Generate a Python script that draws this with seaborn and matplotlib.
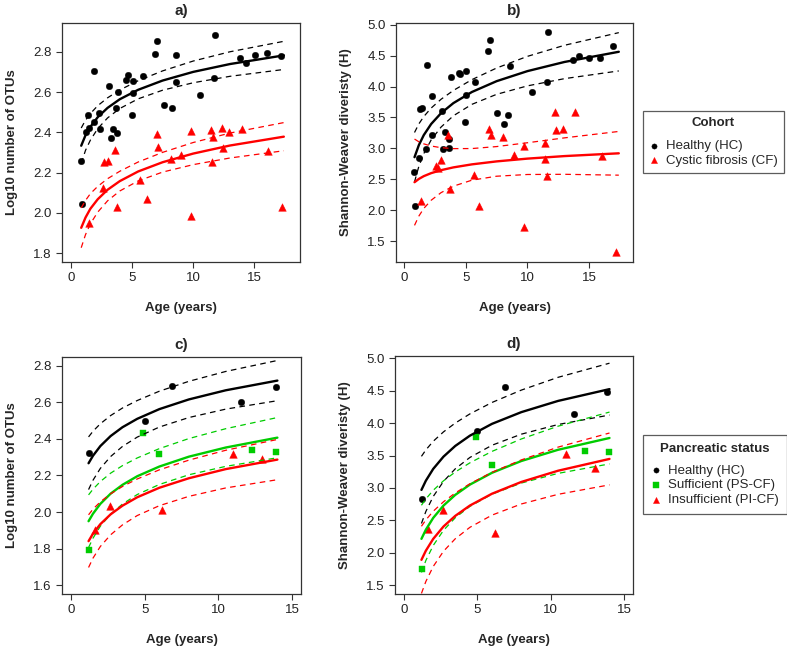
import numpy as np
import pandas as pd
import matplotlib
matplotlib.use("Agg")
import matplotlib.pyplot as plt
import seaborn as sns

# ---------------- data ----------------
# panel a) log10 OTUs by cohort
ha_age = [0.87, 0.95, 1.22, 1.39, 1.47, 1.88, 1.90, 2.28, 2.36, 3.13, 3.32, 3.45, 3.72, 3.78, 3.86, 4.48, 4.65, 5.03,
          5.08, 5.11, 5.90, 6.88, 7.01, 7.61, 8.23, 8.61, 8.61, 10.52, 11.74, 11.68, 13.83, 14.27, 15.08, 16.0, 17.15]
ha_otu = [2.256, 2.042, 2.404, 2.488, 2.421, 2.454, 2.705, 2.496, 2.418, 2.630, 2.371, 2.416, 2.521, 2.396, 2.601,
          2.663, 2.686, 2.488, 2.655, 2.596, 2.680, 2.792, 2.853, 2.538, 2.521, 2.785, 2.653, 2.585, 2.883, 2.670,
          2.768, 2.743, 2.785, 2.797, 2.780]
ca_age = [1.46, 2.6, 2.74, 3.07, 3.61, 3.75, 5.65, 6.2, 7.01, 7.09, 8.21, 9.02, 9.78, 9.78, 11.49, 11.63, 11.52,
          12.34, 12.42, 12.96, 13.97, 16.09, 17.26]
ca_otu = [1.949, 2.126, 2.252, 2.260, 2.312, 2.027, 2.162, 2.070, 2.391, 2.327, 2.267, 2.287, 1.987, 2.409, 2.413,
          2.379, 2.251, 2.424, 2.324, 2.404, 2.416, 2.308, 2.029]

# panel b) Shannon diversity by cohort
hb_age = [0.88, 0.84, 1.19, 1.32, 1.45, 1.83, 1.78, 2.24, 2.29, 3.05, 3.18, 3.32, 3.67, 3.67, 3.80, 4.42, 4.53, 4.99,
          4.94, 4.99, 5.77, 6.77, 6.93, 7.50, 8.12, 8.44, 8.58, 10.33, 11.63, 11.60, 13.70, 14.16, 14.97, 15.89, 16.97]
hb_sh = [2.06, 2.62, 2.84, 3.64, 3.65, 4.35, 2.99, 3.84, 3.22, 3.60, 2.99, 3.27, 3.15, 3.00, 4.16, 4.22, 4.20, 4.25,
         3.43, 3.87, 4.07, 4.58, 4.76, 3.58, 3.39, 3.54, 4.33, 3.91, 4.89, 4.08, 4.43, 4.50, 4.46, 4.46, 4.65]
cb_age = [1.40, 2.62, 2.74, 2.99, 3.55, 3.70, 5.67, 6.10, 6.91, 7.04, 8.04, 8.90, 9.71, 9.71, 11.41, 11.41, 11.57,
          12.22, 12.30, 12.89, 13.84, 16.00, 17.16]
cb_sh = [2.14, 2.72, 2.68, 2.81, 3.22, 2.34, 2.57, 2.07, 3.31, 3.21, 3.18, 2.90, 3.04, 1.72, 3.08, 2.82, 2.56,
         3.59, 3.29, 3.31, 3.59, 2.88, 1.33]

# fitted curves (a, b): ages and read fit values / CI half widths
fit_age_ab = [0.85, 1.2, 1.6, 2.2, 3, 4, 5.5, 7.5, 10, 13, 17.4]
fit_ha = [2.334, 2.386, 2.428, 2.476, 2.522, 2.565, 2.612, 2.658, 2.701, 2.740, 2.783]
hw_ha = [0.088, 0.075, 0.066, 0.057, 0.050, 0.046, 0.045, 0.048, 0.054, 0.061, 0.070]
fit_ca = [1.926, 1.977, 2.021, 2.068, 2.115, 2.158, 2.206, 2.252, 2.295, 2.335, 2.379]
hw_ca = [0.099, 0.085, 0.075, 0.064, 0.055, 0.049, 0.047, 0.049, 0.055, 0.062, 0.070]
fit_hb = [2.857, 3.052, 3.215, 3.395, 3.570, 3.733, 3.913, 4.088, 4.251, 4.399, 4.564]
hw_hb = [0.400, 0.344, 0.300, 0.258, 0.225, 0.205, 0.200, 0.213, 0.239, 0.270, 0.310]
fit_cb = [2.452, 2.505, 2.550, 2.599, 2.647, 2.692, 2.741, 2.789, 2.834, 2.875, 2.920]
hw_cb = [0.699, 0.602, 0.523, 0.439, 0.364, 0.304, 0.256, 0.240, 0.257, 0.295, 0.354]

# panels c, d) by pancreatic status
hc_age = [1.24, 5.04, 6.84, 11.5, 13.89]
hc_otu = [2.324, 2.497, 2.689, 2.604, 2.682]
ps_age_c = [1.24, 4.92, 5.96, 12.29, 13.89]
ps_otu = [1.792, 2.435, 2.317, 2.337, 2.330]
pi_age_c = [1.67, 2.64, 6.19, 10.96, 12.94]
pi_otu = [1.901, 2.032, 2.014, 2.315, 2.292]

hd_age = [1.25, 5.0, 6.91, 11.55, 13.86]
hd_sh = [2.831, 3.885, 4.563, 4.142, 4.476]
ps_age_d = [1.25, 4.91, 6.0, 12.36, 13.95]
ps_sh = [1.752, 3.792, 3.355, 3.576, 3.551]
pi_age_d = [1.66, 2.64, 6.18, 11.02, 13.02]
pi_sh = [2.369, 2.661, 2.312, 3.525, 3.304]

fit_age_cd = [1.2, 1.5, 2, 2.7, 3.5, 4.5, 6, 8, 10.5, 14]
fit_hc = [2.267, 2.308, 2.361, 2.416, 2.464, 2.510, 2.563, 2.616, 2.666, 2.719]
fit_psc = [1.950, 1.991, 2.045, 2.101, 2.149, 2.196, 2.249, 2.303, 2.353, 2.407]
fit_pic = [1.841, 1.882, 1.934, 1.988, 2.035, 2.081, 2.133, 2.185, 2.235, 2.287]
hw_c = [0.144, 0.134, 0.122, 0.112, 0.105, 0.100, 0.098, 0.099, 0.103, 0.110]
fit_hd = [2.970, 3.112, 3.294, 3.483, 3.648, 3.807, 3.989, 4.170, 4.343, 4.525]
fit_psd = [2.215, 2.356, 2.538, 2.728, 2.893, 3.052, 3.234, 3.416, 3.589, 3.771]
fit_pid = [1.891, 2.032, 2.214, 2.405, 2.569, 2.729, 2.911, 3.093, 3.266, 3.448]
hw_d = [0.518, 0.475, 0.426, 0.382, 0.353, 0.336, 0.330, 0.340, 0.364, 0.400]

# ---------------- style ----------------
sns.set_theme(style="white")
plt.rcParams['font.family'] = ['Liberation Sans', 'DejaVu Sans']
plt.rcParams['axes.edgecolor'] = '#333333'
plt.rcParams['axes.linewidth'] = 0.9

BLACK, RED, GREEN = '#000000', '#FF0000', '#00CC00'
MK = {'o': 22, '^': 30, 's': 22}
FS = 9.5

fig = plt.figure(figsize=(7.87, 6.49), dpi=100)
W, H = 787, 649


def add_ax(l, t, r, b):
    return fig.add_axes([l / W, 1 - b / H, (r - l) / W, (b - t) / H])


ax_a = add_ax(62, 23, 300, 262)
ax_b = add_ax(396, 23, 633, 262)
ax_c = add_ax(62, 357, 301, 594)
ax_d = add_ax(395, 356, 633, 594)


def pts(ax, x, y, color, marker, label=None):
    sns.scatterplot(x=x, y=y, ax=ax, color=color, marker=marker, s=MK[marker],
                    edgecolor=color, linewidth=0.3, label=label, legend=False, zorder=2)


def fit(ax, x, y, hw, color):
    df = pd.DataFrame({'x': x, 'y': y, 'hw': hw})
    df['lo'] = df['y'] - df['hw']
    df['hi'] = df['y'] + df['hw']
    sns.lineplot(data=df, x='x', y='y', ax=ax, color=color, lw=1.7, zorder=3)
    for col in ('lo', 'hi'):
        sns.lineplot(data=df, x='x', y=col, ax=ax, color=color, lw=0.9,
                     linestyle=(0, (4.5, 3.5)), zorder=3)


# a
pts(ax_a, ha_age, ha_otu, BLACK, 'o')
pts(ax_a, ca_age, ca_otu, RED, '^')
fit(ax_a, fit_age_ab, fit_ha, hw_ha, BLACK)
fit(ax_a, fit_age_ab, fit_ca, hw_ca, RED)
# b
pts(ax_b, hb_age, hb_sh, BLACK, 'o', 'Healthy (HC)')
pts(ax_b, cb_age, cb_sh, RED, '^', 'Cystic fibrosis (CF)')
fit(ax_b, fit_age_ab, fit_hb, hw_hb, BLACK)
fit(ax_b, fit_age_ab, fit_cb, hw_cb, RED)
# c
pts(ax_c, hc_age, hc_otu, BLACK, 'o')
pts(ax_c, ps_age_c, ps_otu, GREEN, 's')
pts(ax_c, pi_age_c, pi_otu, RED, '^')
fit(ax_c, fit_age_cd, fit_hc, hw_c, BLACK)
fit(ax_c, fit_age_cd, fit_psc, hw_c, GREEN)
fit(ax_c, fit_age_cd, fit_pic, hw_c, RED)
# d
pts(ax_d, hd_age, hd_sh, BLACK, 'o', 'Healthy (HC)')
pts(ax_d, ps_age_d, ps_sh, GREEN, 's', 'Sufficient (PS-CF)')
pts(ax_d, pi_age_d, pi_sh, RED, '^', 'Insufficient (PI-CF)')
fit(ax_d, fit_age_cd, fit_hd, hw_d, BLACK)
fit(ax_d, fit_age_cd, fit_psd, hw_d, GREEN)
fit(ax_d, fit_age_cd, fit_pid, hw_d, RED)

specs = [
    (ax_a, 'a)', 'Log10 number of OTUs', (-0.72, 18.72), (1.756, 2.944), [1.8, 2.0, 2.2, 2.4, 2.6, 2.8], '%.1f'),
    (ax_b, 'b)', 'Shannon-Weaver diveristy (H)', (-0.65, 18.55), (1.16, 5.03),
     [1.5, 2.0, 2.5, 3.0, 3.5, 4.0, 4.5, 5.0], '%.1f'),
    (ax_c, 'c)', 'Log10 number of OTUs', (-0.6, 15.6), (1.552, 2.848), [1.6, 1.8, 2.0, 2.2, 2.4, 2.6, 2.8], '%.1f'),
    (ax_d, 'd)', 'Shannon-Weaver diveristy (H)', (-0.6, 15.6), (1.364, 5.036),
     [1.5, 2.0, 2.5, 3.0, 3.5, 4.0, 4.5, 5.0], '%.1f'),
]
for ax, title, ylab, xl, yl, yt, fmt in specs:
    ax.set_xlim(*xl)
    ax.set_ylim(*yl)
    ax.set_xticks([0, 5, 10, 15])
    ax.set_yticks(yt)
    ax.set_yticklabels([fmt % v for v in yt])
    ax.tick_params(axis='both', direction='out', length=4.5, width=0.8, color='#333333',
                   labelsize=FS, labelcolor='#222222', pad=3,
                   bottom=True, left=True)
    ax.set_title(title, fontsize=11, fontweight='bold', pad=6)
    ax.set_xlabel('Age (years)', fontsize=FS, fontweight='bold', labelpad=13)
    ax.set_ylabel(ylab, fontsize=FS, fontweight='bold', labelpad=11)
    for s in ax.spines.values():
        s.set_visible(True)
        s.set_color('#333333')
    if ax.get_legend() is not None:
        ax.get_legend().remove()


def make_legend(ax, title, top_px, sep, bpad):
    h, l = ax.get_legend_handles_labels()
    leg = fig.legend(h, l, title=title, loc='upper left', bbox_to_anchor=(643 / W, 1 - top_px / H),
                     fontsize=FS, title_fontproperties={'weight': 'bold', 'size': FS},
                     frameon=True, fancybox=False, edgecolor='#333333', handlelength=0.8,
                     handletextpad=0.5, labelspacing=0.18, borderpad=bpad, markerscale=0.8,
                     borderaxespad=0)
    leg.get_frame().set_linewidth(0.9)
    leg._legend_box.sep = sep
    return leg


make_legend(ax_b, 'Cohort', 111, 8, 0.45)
make_legend(ax_d, 'Pancreatic status', 435, 7, 0.6)

fig.savefig('out.png', dpi=100)
